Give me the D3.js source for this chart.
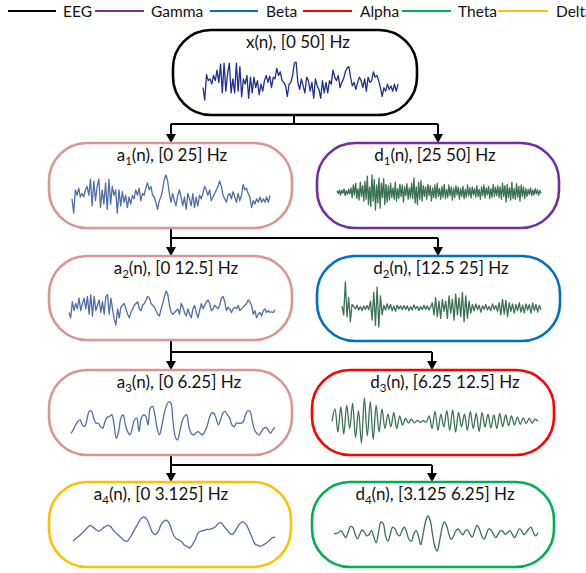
<!DOCTYPE html>
<html><head><meta charset="utf-8">
<script src="https://cdn.jsdelivr.net/npm/d3@7"></script>
<style>body{margin:0;background:#fff}svg{display:block}text{font-family:Lato,"Open Sans",sans-serif;fill:#111}</style>
</head><body><svg id="c" width="586" height="573"></svg>
<script>
// ---------- data ----------
const legendLabels = ["EEG","Gamma","Beta","Alpha","Theta","Delta"];
const legendColors = ["#000000","#7030a0","#0070c0","#ff0000","#00b050","#ffc000"];

const signalSymbols = ["x","a","d","a","d","a","d","a","d"];
const signalLevels  = ["","1","1","2","2","3","3","4","4"];
const signalBands   = ["[0 50] Hz","[0 25] Hz","[25 50] Hz","[0 12.5] Hz","[12.5 25] Hz","[0 6.25] Hz","[6.25 12.5] Hz","[0 3.125] Hz","[3.125 6.25] Hz"];
const boxColors     = ["#000000","#d99694","#7030a0","#d99694","#0070c0","#d99694","#ff0000","#ffc000","#00b050"];

const xSignal = [15,-20,52,35,40,25,50,35,65,30,82,0,85,5,55,85,0,40,0,85,5,75,-10,40,25,50,-15,45,0,45,15,35,-5,25,5,35,50,30,48,15,45,40,70,50,60,35,30,20,-10,25,30,50,85,88,30,10,40,20,0,45,35,5,30,-15,40,20,10,-15,35,0,30,0,35,25,65,45,35,50,15,30,40,60,70,75,45,20,30,10,30,45,35,15,40,5,45,30,35,60,45,50,35,15,-10,15,5,25,10,20,5,25,5,25];
const a1Signal = [25,-15,50,35,55,30,40,30,50,60,35,80,5,75,20,60,80,0,50,10,70,-5,80,10,60,35,50,-15,50,5,45,15,35,0,30,10,35,25,50,35,55,20,40,35,55,70,50,60,35,30,15,-5,20,30,50,80,92,75,40,15,40,20,5,35,50,30,5,30,-5,40,25,5,40,0,30,5,35,25,40,60,50,35,50,20,30,40,50,60,75,60,35,25,15,35,40,25,45,30,15,40,20,35,65,50,55,40,30,0,20,10,25,15,30,15,25,15,30,15,35];
const d1Signal = [3,-4,6,-8,5,-3,9,-10,4,-6,8,-5,
  12,-15,20,-8,25,-18,10,-22,28,-12,18,-25,
  30,-20,45,-35,15,-40,48,-25,35,-50,20,-30,40,-45,25,-15,38,-35,22,-28,
  18,-22,25,-15,12,-20,28,-25,10,-18,22,-12,20,-28,15,-10,24,-20,12,-16,
  25,-18,40,-30,15,-35,28,-20,32,-25,18,-12,
  15,-20,22,-10,18,-25,12,-15,20,-18,25,-12,10,-20,16,-14,22,-18,8,-15,20,-10,14,-22,
  12,-15,18,-8,14,-20,10,-12,16,-18,8,-14,20,-10,12,-16,15,-8,
  10,-14,18,-12,8,-20,15,-10,20,-16,12,-8,16,-18,10,-14,22,-12,14,-10,18,-15,
  15,-20,25,-12,18,-28,22,-15,12,-22,28,-18,10,-20,24,-14,16,-25,20,-12,15,-18,
  10,-12,8,-6,12,-10,6,-8,10,-5,7,-9,5,-4];
const a2Signal = [30,15,60,35,55,40,70,35,55,70,40,75,25,80,20,75,35,50,65,30,60,25,75,80,25,70,40,10,-5,40,15,45,50,55,40,25,15,30,40,50,55,60,40,35,50,55,65,75,70,55,50,45,35,25,20,40,55,75,90,80,50,30,25,30,35,40,25,55,45,30,20,40,25,15,40,50,30,15,35,55,40,50,60,65,55,35,40,50,45,40,50,70,75,60,35,45,40,30,40,45,40,50,35,40,45,50,55,65,60,50,25,35,15,25,30,20,35,40,30,35,30,32,30,38];
const d2Signal = [5,-20,75,-25,30,-40,10,
  5,-3,8,-6,4,-8,6,-4,7,-5,
  20,-35,45,-50,60,-55,35,-20,
  8,-6,12,-4,10,-8,5,-10,8,-3,6,
  -5,7,-4,6,-8,4,-6,9,-3,5,-7,4,-5,8,-4,6,-6,3,
  15,-20,30,-25,20,-30,25,-10,
  20,-30,35,-15,25,-35,40,-20,30,-25,45,-40,35,-30,20,-15,
  10,-8,12,-5,8,-12,6,-4,10,-6,5,-8,12,-4,7,-10,
  15,-20,25,-18,22,-25,15,-10,
  12,-15,10,-8,15,-12,8,-14,12,-6,10,-15,14,-8,10,-12,8,-5];
const a3Signal = [-5,5,20,30,35,20,15,35,60,62,40,25,25,15,10,30,42,45,50,20,-20,0,40,50,20,0,-10,10,35,40,0,40,50,45,20,70,75,50,10,-10,15,50,75,88,85,30,-15,-25,0,30,45,50,15,-5,-10,-5,0,-5,-10,0,15,40,55,55,40,20,35,55,60,50,40,20,15,25,25,25,30,50,62,60,30,5,-5,-10,0,10,12,5,-5,5,12];
const d3Signal = [0,35,-30,40,-35,45,-20,50,-45,30,-60,65,-40,55,-50,45,-30,35,-20,
  20,-15,25,-20,15,-10,
  8,-5,6,-4,3,-3,2,-2,
  15,-20,28,-25,20,-15,
  30,-25,32,-30,25,-15,
  20,-25,28,-20,22,-28,25,-15,20,-18,
  18,-20,22,-15,18,-12,15,-10,12,
  -8,10,-6,8,-5,6,0];
const a4Signal = [10,18,25,32,40,50,57,52,45,40,45,52,57,55,45,35,28,20,12,10,20,35,50,65,78,82,75,55,35,30,40,60,70,72,60,35,20,15,10,0,-5,-10,0,15,35,40,42,45,45,48,52,62,65,55,45,35,30,40,55,65,67,58,40,20,2,-2,-5,0,5,12,20,22];
const d4Signal = [32,32,35,40,30,20,35,52,50,30,17,30,42,35,25,30,40,22,5,35,65,60,25,10,30,50,45,30,25,40,50,35,15,10,30,40,25,0,30,65,82,70,30,-5,-18,10,45,65,55,30,15,25,40,45,35,28,40,42,30,22,40,55,45,25,15,30,45,42,30,20,30,40,38,30,35,40,30,20,32,45,40,28,35,45,50,35,25,35];

const allSignals = [xSignal,a1Signal,d1Signal,a2Signal,d2Signal,a3Signal,d3Signal,a4Signal,d4Signal];

// ---------- layout ----------
const boxes = [
  {x:173,y:30,w:244,h:85, tx:298, px:[203,398], py:[62,100], lc:"#1f2f8f", smooth:false, sw:2.6},
  {x:49,y:143,w:243,h:85, tx:172, px:[72,270], py:[175,213], lc:"#4f6ea8", smooth:false, sw:2.6},
  {x:317,y:143,w:242,h:85, tx:435, px:[337,541], py:[175,210], lc:"#3b7254", smooth:false, sw:2.6},
  {x:49,y:256,w:243,h:84, tx:176, px:[69,275], py:[291,325], lc:"#4f6ea8", smooth:false, sw:2.6},
  {x:317,y:256,w:243,h:85, tx:441, px:[342,541], py:[282,327], lc:"#3b7254", smooth:false, sw:2.6},
  {x:49,y:370,w:243,h:85, tx:179, px:[71,275], py:[402,440], lc:"#4f6ea8", smooth:true, sw:2.6},
  {x:312,y:370,w:242,h:85, tx:445, px:[332,538], py:[398,443], lc:"#3b7254", smooth:true, sw:2.6},
  {x:49,y:482,w:242,h:85, tx:161, px:[73,275], py:[517,548], lc:"#4f6ea8", smooth:true, sw:2.6},
  {x:312,y:482,w:242,h:85, tx:435, px:[334,538], py:[516,551], lc:"#3b7254", smooth:true, sw:2.6}
];
const connectors = [
  {stemX:294, stemTop:116, barY:124, left:171, right:438, end:143},
  {stemX:171, stemTop:228, barY:238, left:171, right:438, end:256},
  {stemX:171, stemTop:340, barY:352, left:171, right:432, end:370},
  {stemX:171, stemTop:455, barY:465, left:171, right:432, end:482}
];
const legendPos = [[8,56,63],[95,144,151],[210,258,266],[303,352,360],[402,451,458],[498,548,556]];

const svg = d3.select("#c");

// legend
const lg = svg.append("g");
legendLabels.forEach((lab,i)=>{
  const p = legendPos[i];
  lg.append("line").attr("x1",p[0]).attr("x2",p[1]).attr("y1",11).attr("y2",11)
    .attr("stroke",legendColors[i]).attr("stroke-width",2);
  lg.append("text").attr("x",p[2]).attr("y",16.5).attr("font-size",15.5).text(lab);
});

// connectors
const cg = svg.append("g");
connectors.forEach(c=>{
  cg.append("line").attr("x1",c.stemX).attr("x2",c.stemX).attr("y1",c.stemTop).attr("y2",c.barY)
    .attr("stroke","#000").attr("stroke-width",2);
  cg.append("line").attr("x1",c.left).attr("x2",c.right).attr("y1",c.barY).attr("y2",c.barY)
    .attr("stroke","#000").attr("stroke-width",2);
  [c.left,c.right].forEach(x=>{
    cg.append("line").attr("x1",x).attr("x2",x).attr("y1",c.barY).attr("y2",c.end-8)
      .attr("stroke","#000").attr("stroke-width",2);
    cg.append("path").attr("d",`M${x-5},${c.end-9}L${x+5},${c.end-9}L${x},${c.end}Z`).attr("fill","#000");
  });
});

// boxes
boxes.forEach((b,i)=>{
  const g = svg.append("g");
  g.append("rect").attr("x",b.x).attr("y",b.y).attr("width",b.w).attr("height",b.h)
    .attr("rx",38).attr("ry",38).attr("fill","#fff")
    .attr("stroke",boxColors[i]).attr("stroke-width",b.sw);
  const t = g.append("text").attr("x",b.tx).attr("y",b.y+18).attr("text-anchor","middle").attr("font-size",17);
  t.append("tspan").text(signalSymbols[i]);
  if (signalLevels[i]) t.append("tspan").attr("font-size",11.5).attr("dy",4).text(signalLevels[i]);
  t.append("tspan").attr("dy",signalLevels[i]?-4:0).text("(n), " + signalBands[i]);

  const vals = allSignals[i];
  const xs = d3.scaleLinear().domain([0, vals.length-1]).range(b.px);
  const ys = d3.scaleLinear().domain(d3.extent(vals)).range([b.py[1], b.py[0]]);
  const line = d3.line().x((d,k)=>xs(k)).y(d=>ys(d))
    .curve(b.smooth ? d3.curveCatmullRom.alpha(0.5) : d3.curveLinear);
  g.append("path").datum(vals).attr("d",line).attr("fill","none")
    .attr("stroke",b.lc).attr("stroke-width",1.3).attr("stroke-linejoin","round");
});
</script></body></html>
